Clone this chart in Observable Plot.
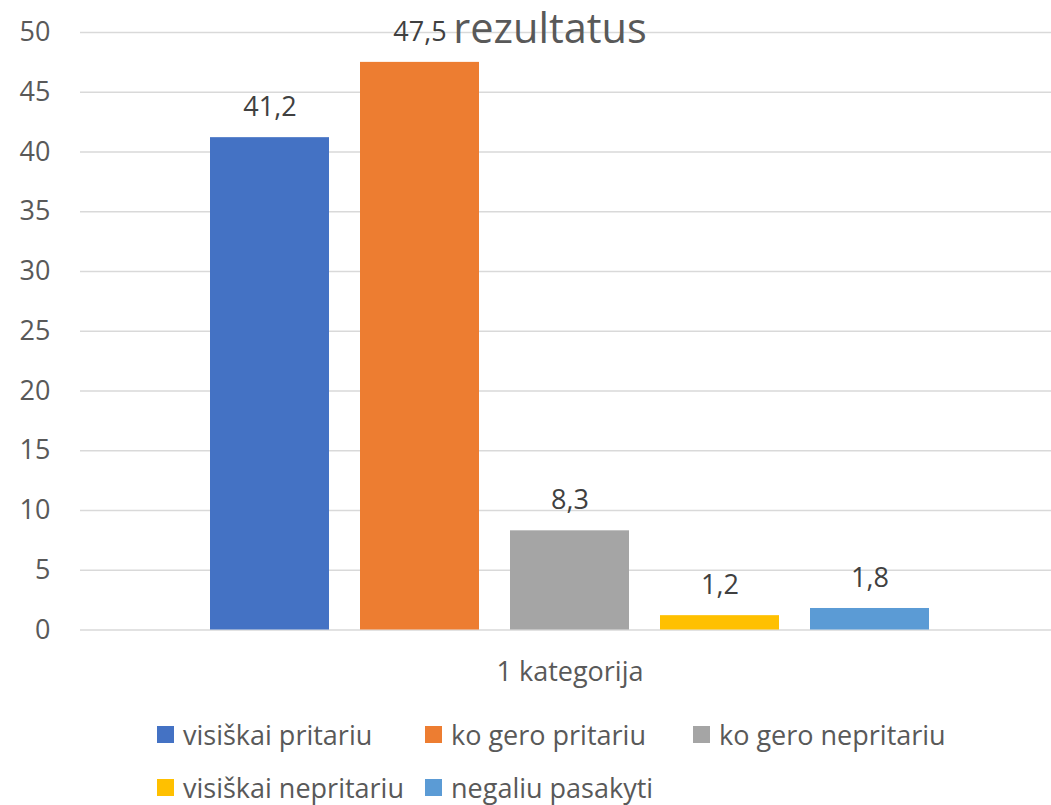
<!DOCTYPE html>
<html>
<head>
<meta charset="utf-8">
<script src="https://cdn.jsdelivr.net/npm/d3@7"></script>
<script src="https://cdn.jsdelivr.net/npm/@observablehq/plot@0.6"></script>
<style>
  html, body { margin: 0; padding: 0; background: #fff; }
  #chart { width: 1051px; }
  .legend { display: grid; grid-template-columns: repeat(3, 268px); padding-left: 157px; margin-top: 8px;
            font-family: "Open Sans", sans-serif; font-size: 27px; color: #595959; }
  .legend .item { display: flex; align-items: center; height: 53px; white-space: nowrap; }
  .legend .sw { width: 17px; height: 17px; margin-right: 9px; flex: none; }
  .legend .lab { line-height: 1; }
</style>
</head>
<body>
<div id="chart"></div>
<script>
const category = "1 kategorija";
const series = ["visiškai pritariu", "ko gero pritariu", "ko gero nepritariu", "visiškai nepritariu", "negaliu pasakyti"];
const values = [41.2, 47.5, 8.3, 1.2, 1.8];
const colors = ["#4472C4", "#ED7D31", "#A5A5A5", "#FFC000", "#5B9BD5"];
const yTicks = [0, 5, 10, 15, 20, 25, 30, 35, 40, 45, 50];
const title = "rezultatus";

const data = series.map((name, i) => ({name, value: values[i]}));
const fmt = v => v.toFixed(1).replace(".", ",");

const chart = Plot.plot({
  width: 1051,
  height: 700,
  marginLeft: 80,
  marginRight: 0,
  marginTop: 32,
  marginBottom: 70.5,
  style: {fontFamily: "Open Sans, sans-serif", fontSize: "27px", background: "#fff"},
  x: {domain: series, range: [80, 1059], paddingInner: 0.207, paddingOuter: 0.858, axis: null},
  y: {domain: [0, 50]},
  color: {domain: series, range: colors},
  marks: [
    Plot.gridY(yTicks, {stroke: "#D9D9D9", strokeOpacity: 1, strokeWidth: 1.5}),
    Plot.axisY(yTicks, {tickSize: 0, tickPadding: 30, color: "#595959", label: null, fontSize: 27}),
    Plot.barY(data, {x: "name", y: "value", fill: "name"}),
    Plot.text(data, {x: "name", y: "value", text: d => fmt(d.value), dy: -30, fill: "#404040", fontSize: 27}),
    Plot.text([category], {text: d => d, frameAnchor: "bottom", lineAnchor: "middle", dy: 42.5, dx: 4, fill: "#595959", fontSize: 27}),
    Plot.text([title], {text: d => d, frameAnchor: "top", lineAnchor: "bottom", dy: 10, dx: -16, fill: "#595959", fontSize: 41.5})
  ]
});
document.getElementById("chart").appendChild(chart);

const legend = document.createElement("div");
legend.className = "legend";
series.forEach((name, i) => {
  const item = document.createElement("div");
  item.className = "item";
  const sw = document.createElement("span");
  sw.className = "sw";
  sw.style.background = colors[i];
  const label = document.createElement("span");
  label.className = "lab";
  label.textContent = name;
  item.appendChild(sw);
  item.appendChild(label);
  legend.appendChild(item);
});
document.getElementById("chart").appendChild(legend);
</script>
</body>
</html>
